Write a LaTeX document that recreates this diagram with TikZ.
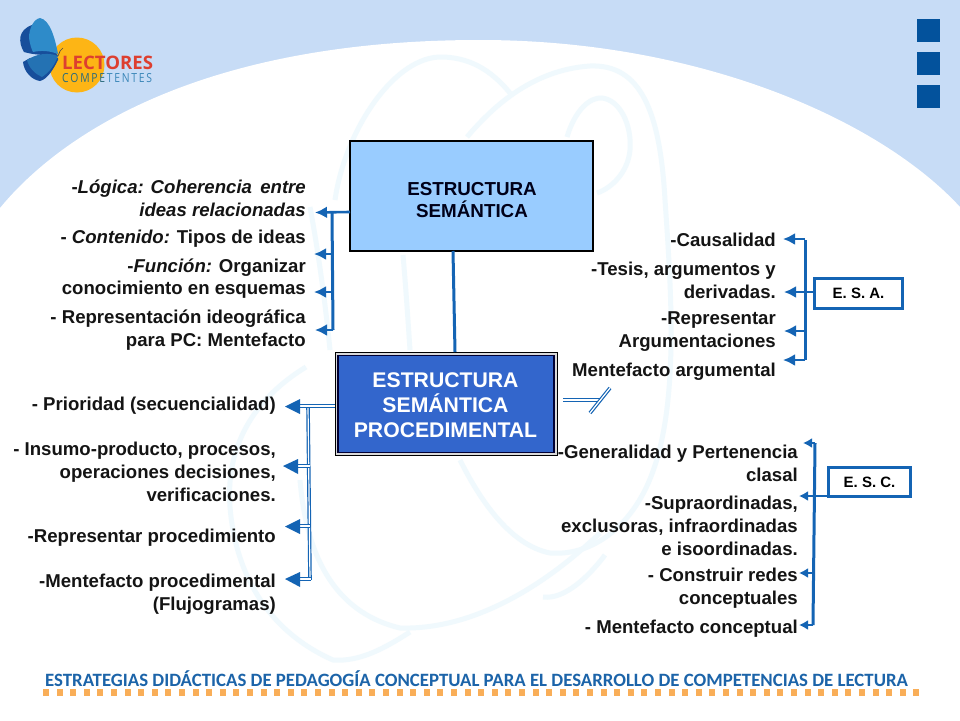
\documentclass[tikz,border=0pt]{standalone}
\usepackage{fontspec}
\setmainfont{Liberation Sans}
\newfontfamily\footfont{Carlito}
\newfontfamily\logofont{Open Sans}
\usetikzlibrary{arrows.meta}
\definecolor{skyband}{HTML}{C7DCF6}
\definecolor{wm}{HTML}{F0F9FD}
\definecolor{linkblue}{HTML}{1464B4}
\definecolor{squareblue}{HTML}{03529C}
\definecolor{boxlight}{HTML}{99CCFF}
\definecolor{boxdark}{HTML}{3366CC}
\definecolor{footblue}{HTML}{1C64A9}
\definecolor{footorange}{HTML}{F9AE58}
\definecolor{sun}{HTML}{FDB515}
\definecolor{wingdark}{HTML}{174E9B}
\definecolor{wingup}{HTML}{2E8BC9}
\definecolor{winglow}{HTML}{2472B3}
\definecolor{logored}{HTML}{DD3F30}
\definecolor{logoteal}{HTML}{2A6B7C}
\definecolor{logoblue}{HTML}{3A86B8}
\tikzset{
 x=1pt,y=-1pt,
 item/.style={anchor=east,align=right,inner sep=0pt,yshift=-1.8pt,font=\fontsize{18.6}{22.6}\selectfont\bfseries,text=black!92},
 lnk/.style={draw=linkblue,line width=3pt},
 arr/.style={draw=linkblue,line width=2.6pt,-{Latex[length=12pt,width=12pt]}},
 thinarr/.style={draw=linkblue,line width=2.2pt,-{Latex[length=9pt,width=10pt]}},
 dbl/.style={draw=linkblue,line width=1.2pt,double=white,double distance=1.2pt},
 tagbox/.style={draw=linkblue,line width=3pt,fill=white,inner sep=0pt,font=\fontsize{15}{17}\selectfont\bfseries},
 wmline/.style={draw=wm,line width=5pt},
 sq/.style={fill=squareblue},
 lab/.style={inner sep=0pt,align=center},
}
\begin{document}
\begin{tikzpicture}
\useasboundingbox (0,0) rectangle (960,720);
\fill[skyband] (0,0) rectangle (960,720);
\fill[white] (0,720) -- (0,208) .. controls (60,135) and (200,40) .. (480,40) .. controls (700,40) and (880,120) .. (960,207) -- (960,720) -- cycle;
% watermark
\draw[wmline] (335,200) .. controls (345,130) and (395,55) .. (443,57) .. controls (475,58) and (495,75) .. (510,93);
\draw[wmline] (467,137) .. controls (490,110) and (530,70) .. (590,66) .. controls (640,64) and (660,110) .. (665,200) .. controls (672,300) and (680,420) .. (645,490) .. controls (625,530) and (590,556) .. (550,553) .. controls (510,545) and (480,500) .. (460,460);
\draw[wmline] (567,137) .. controls (575,110) and (590,97) .. (602,98) .. controls (620,100) and (632,125) .. (630,150) .. controls (628,172) and (612,188) .. (597,193);
\draw[wmline] (300,480) .. controls (305,540) and (325,610) .. (400,628) .. controls (470,630) and (540,590) .. (600,533);
\draw[wmline] (306,367) .. controls (260,395) and (225,440) .. (230,507) .. controls (235,570) and (265,630) .. (333,660) .. controls (360,662) and (385,648) .. (410,632);
\draw[wmline] (543,597) .. controls (565,600) and (590,575) .. (605,555);
\draw[wmline] (310,207) .. controls (318,250) and (325,300) .. (330,350);
\draw[wmline] (403,255) .. controls (406,290) and (408,320) .. (410,350);
% logo
\fill[sun] (77,65) circle (27.5);
\fill[wingdark] (58,56) .. controls (45,55) and (34,55) .. (24,52) .. controls (18,42) and (18,30) .. (32,25) -- (42,30) -- cycle;
\fill[wingdark] (58,58) -- (30,58) -- (23,62) .. controls (24,72) and (32,80) .. (40,81) .. controls (48,79) and (54,68) .. (58,60) -- cycle;
\fill[wingup] (58,54) .. controls (55,38) and (50,20) .. (40,18) .. controls (34,19) and (29,28) .. (29,38) .. controls (30,44) and (31,48) .. (33,52) .. controls (42,50) and (50,51) .. (58,54) -- cycle;
\fill[winglow] (58,56) .. controls (48,52) and (36,54) .. (27,60) .. controls (29,68) and (35,74) .. (42,77) .. controls (50,72) and (55,64) .. (58,56) -- cycle;
\draw[black!70,line width=0.7pt] (58,56) .. controls (60,52) and (60,49) .. (63,48);
\node[inner sep=0pt,anchor=west,text=logored,font=\logofont\bfseries\fontsize{18.6}{20}\selectfont] (logoa) at (62,62.5) {LECTORES};
\node[inner sep=0pt,anchor=west,font=\logofont\fontsize{12.5}{13}\selectfont] (logob) at (62,78.5) {\scalebox{0.83}[1]{\textcolor{logoteal}{C\,O\,M\,P\,E\,}\textcolor{logoblue}{T\,E\,N\,T\,E\,S}}};
% squares
\fill[sq] (917,19) rectangle (940,42);
\fill[sq] (917,52) rectangle (940,75);
\fill[sq] (917,85) rectangle (940,108);
% main boxes
\node[draw=black,line width=2.5pt,fill=boxlight,minimum width=243pt,minimum height=110pt,inner sep=0pt] (top) at (471.5,196) {};
\node[lab,font=\fontsize{18.8}{22.5}\selectfont\bfseries,text=black!90!blue] (toplab) at (472,200) {ESTRUCTURA\\SEMÁNTICA};
\node[draw=black,line width=1pt,fill=white!70!gray,minimum width=222pt,minimum height=103pt,inner sep=0pt] (procout) at (446,404) {};
\node[draw=black!80!blue,line width=1.4pt,fill=boxdark,minimum width=216pt,minimum height=97pt,inner sep=0pt] (proc) at (446,404) {};
\node[lab,font=\fontsize{21.2}{25}\selectfont\bfseries,text=white] (proclab) at (445.5,405) {ESTRUCTURA\\SEMÁNTICA\\PROCEDIMENTAL};
\coordinate (topout) at (453,251);
\coordinate (procin) at (455,352);
\draw[lnk] (topout) -- (procin);
% left top
\node[item] (l1) at (306,196.5) {-\textit{Lógica: }\textit{Coherencia \,entre}\\\textit{ideas relacionadas}};
\node[item] (l2) at (306,237) {- \textit{Contenido: }Tipos de ideas};
\node[item] (l3) at (306,277) {-\textit{Función: }Organizar\\conocimiento en esquemas};
\node[item] (l4) at (306,328.5) {- Representación ideográfica\\para PC: Mentefacto};
\coordinate (la) at (350,212); \coordinate (lb) at (332,254); \coordinate (lc) at (332,292); \coordinate (ld) at (333,330); \coordinate (lj) at (332,212);
\coordinate (lta) at (315,212.5); \coordinate (ltb) at (314,254); \coordinate (ltc) at (314,292); \coordinate (ltd) at (315,330);
\draw[lnk] (lj) -- (ld);
\draw[arr] (la) -- (lta);
\draw[arr] (lb) -- (ltb);
\draw[arr] (lc) -- (ltc);
\draw[arr] (ld) -- (ltd);
% left bottom
\node[item] (p1) at (276,404) {- Prioridad (secuencialidad)};
\node[item] (p2) at (276,470) {- Insumo-producto, procesos,\\operaciones decisiones,\\verificaciones.};
\node[item] (p3) at (276,536) {-Representar procedimiento};
\node[item] (p4) at (276,592.5) {-Mentefacto procedimental\\(Flujogramas)};
\coordinate (pa) at (335,406); \coordinate (pm) at (298,406);
\coordinate (pj) at (308,406); \coordinate (pe) at (310,580);
\coordinate (q2) at (310,466); \coordinate (q2t) at (297,466);
\coordinate (q3) at (310,526); \coordinate (q3t) at (297,526);
\coordinate (q4) at (311,579); \coordinate (q4t) at (297,579);
\draw[dbl] (pj) -- (pe);
\draw[dbl] (pa) -- (pm);
\draw[dbl] (q2) -- (q2t);
\draw[dbl] (q3) -- (q3t);
\draw[dbl] (q4) -- (q4t);
\fill[linkblue] (285,406.5) -- (300,399) -- (300,414) -- cycle;
\fill[linkblue] (283,466) -- (298,459) -- (298,474) -- cycle;
\fill[linkblue] (285,526.5) -- (300,519) -- (300,534) -- cycle;
\fill[linkblue] (285,579) -- (300,572) -- (300,587) -- cycle;
% broken stub
\coordinate (sa) at (563,400); \coordinate (sb) at (600,400); \coordinate (sc) at (590,413); \coordinate (sd) at (610,388);
\draw[dbl] (sa) -- (sb);
\draw[dbl] (sc) -- (sd);
% right top
\node[item] (r1) at (776,238) {-Causalidad};
\node[item] (r2) at (776,278.5) {-Tesis, argumentos y\\derivadas.};
\node[item] (r3) at (776,330) {-Representar\\Argumentaciones};
\node[item] (r4) at (776,370) {Mentefacto argumental};
\node[tagbox,minimum width=88pt,minimum height=30pt] (esa) at (858.5,293) {E. S. A.};
\coordinate (at) at (805,240); \coordinate (ab) at (805,360);
\coordinate (aj1) at (805,239); \coordinate (aj3) at (805,331); \coordinate (aj4) at (805,360);
\coordinate (ata) at (783,239); \coordinate (atb) at (784,292); \coordinate (atc) at (784,331); \coordinate (atd) at (783,360);
\coordinate (esaw) at (813,292);
\draw[lnk] (at) -- (ab);
\draw[arr] (aj1) -- (ata);
\draw[arr] (esaw) -- (atb);
\draw[arr] (aj3) -- (atc);
\draw[arr] (aj4) -- (atd);
% right bottom
\node[item] (s1) at (798,461.5) {-Generalidad y Pertenencia\\clasal};
\node[item] (s2) at (798,524) {-Supraordinadas,\\exclusoras, infraordinadas\\e isoordinadas.};
\node[item] (s3) at (798,586.5) {- Construir redes\\conceptuales};
\node[item] (s4) at (798,627) {- Mentefacto conceptual};
\node[tagbox,minimum width=82pt,minimum height=29.5pt] (esc) at (869.5,482) {E. S. C.};
\coordinate (ct) at (815,443); \coordinate (cb) at (813,625);
\coordinate (cta) at (803,443); \coordinate (ctb) at (799,496); \coordinate (ctc) at (799,573); \coordinate (ctd) at (799,625);
\coordinate (cj3) at (814,573);
\coordinate (escw) at (827,496);
\draw[lnk] (ct) -- (cb);
\draw[thinarr] (ct) -- (cta);
\draw[thinarr] (escw) -- (ctb);
\draw[thinarr] (cj3) -- (ctc);
\draw[thinarr] (cb) -- (ctd);
% footer
\node[inner sep=0pt,anchor=west,text=footblue,font=\footfont\bfseries\fontsize{18.8}{20}\selectfont] (foot) at (45,679) {ESTRATEGIAS DIDÁCTICAS DE PEDAGOGÍA CONCEPTUAL PARA EL DESARROLLO DE COMPETENCIAS DE LECTURA};
\foreach \i in {0,...,64} \fill[footorange] ({43+\i*13.6},689) rectangle ++(6,7);
\end{tikzpicture}
\end{document}
